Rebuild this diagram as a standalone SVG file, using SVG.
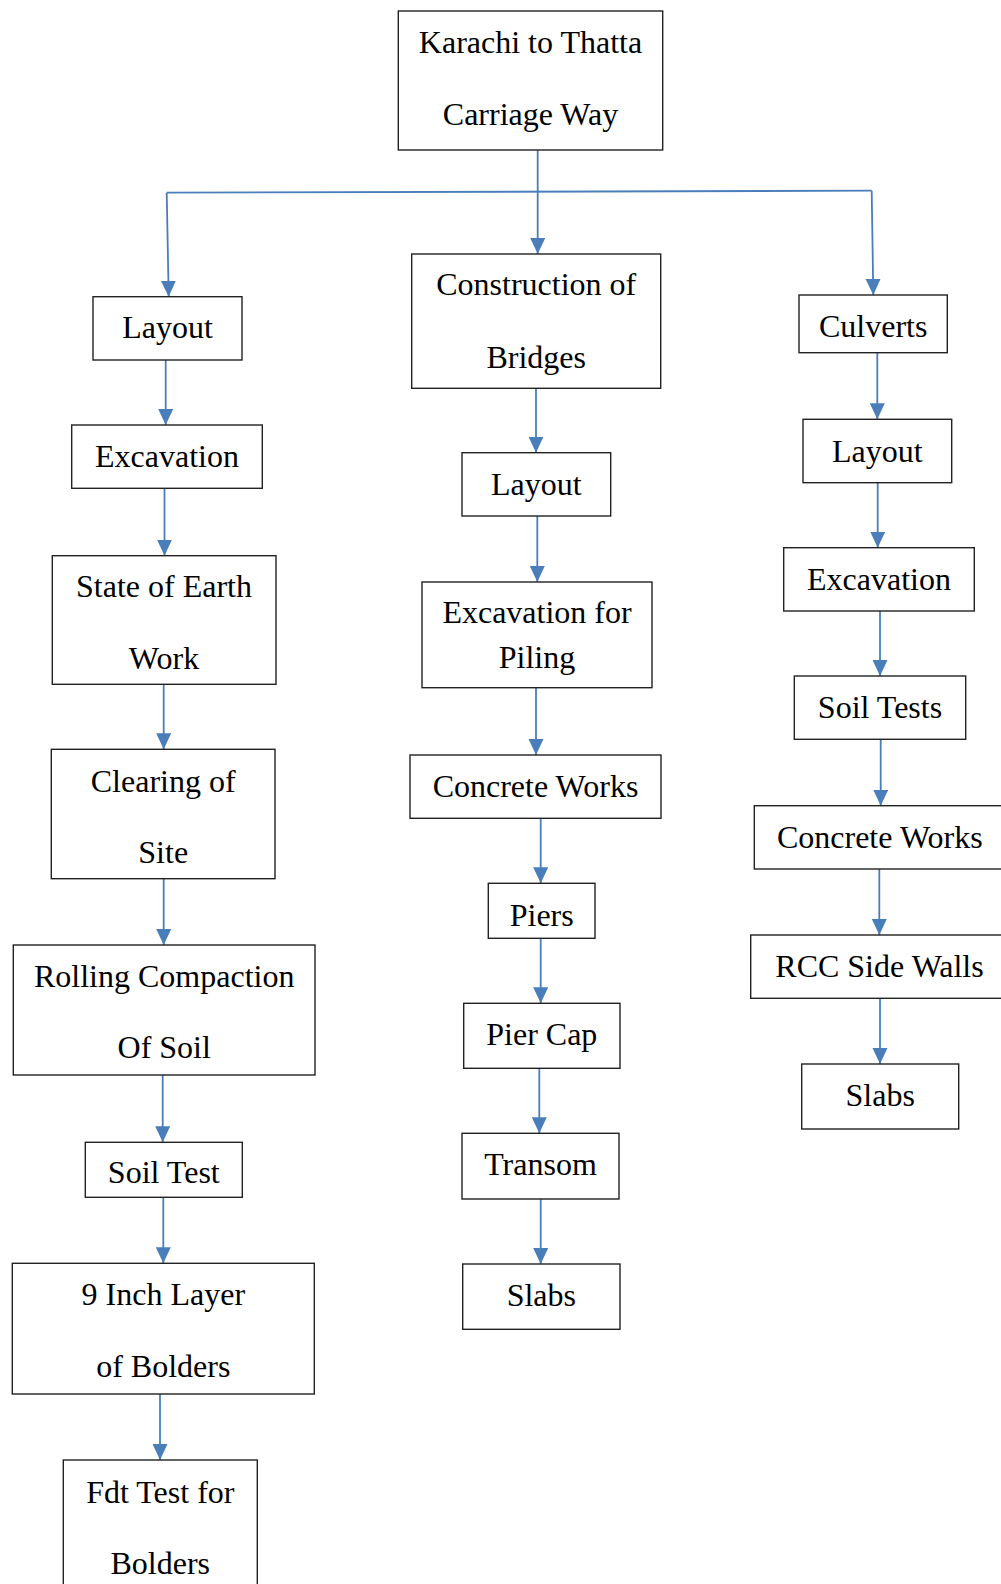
<svg xmlns="http://www.w3.org/2000/svg" width="1001" height="1584" viewBox="0 0 1001 1584">
<style>
.box{fill:#fff;stroke:#222;stroke-width:1.4}
.t{font-family:"Liberation Serif","Times New Roman",serif;font-size:32px;fill:#000;text-anchor:middle}
.c{fill:none;stroke:#4a7ebb;stroke-width:1.8}
.a{marker-end:url(#arr)}
</style>
<defs>
<marker id="arr" markerUnits="userSpaceOnUse" markerWidth="17" markerHeight="16" refX="16" refY="7.5" orient="auto">
<path d="M0,0 L16,7.5 L0,15 z" fill="#4a7ebb"/>
</marker>
</defs>
<rect width="1001" height="1584" fill="#fff"/>
<g id="connectors">
<line class="c a" x1="537.7" y1="150" x2="537.7" y2="254"/>
<line class="c" x1="166.7" y1="192.7" x2="871.7" y2="190.7"/>
<line class="c a" x1="166.7" y1="192.7" x2="168.7" y2="296.7"/>
<line class="c a" x1="871.7" y1="190.7" x2="873.3" y2="295"/>
<line class="c a" x1="165.7" y1="360" x2="165.7" y2="425"/>
<line class="c a" x1="164.5" y1="488.3" x2="164.5" y2="555.7"/>
<line class="c a" x1="163.7" y1="684.3" x2="163.7" y2="749.3"/>
<line class="c a" x1="163.7" y1="878.7" x2="163.7" y2="945"/>
<line class="c a" x1="162.7" y1="1075" x2="162.7" y2="1142.3"/>
<line class="c a" x1="163.3" y1="1197.3" x2="163.3" y2="1263.3"/>
<line class="c a" x1="160" y1="1394" x2="160" y2="1460"/>
<line class="c a" x1="536" y1="388.3" x2="536" y2="452.7"/>
<line class="c a" x1="537.3" y1="516" x2="537.3" y2="582"/>
<line class="c a" x1="536" y1="687.7" x2="536" y2="755"/>
<line class="c a" x1="540.7" y1="818.3" x2="540.7" y2="883.3"/>
<line class="c a" x1="540.7" y1="938.3" x2="540.7" y2="1003.3"/>
<line class="c a" x1="539.3" y1="1068.3" x2="539.3" y2="1133.3"/>
<line class="c a" x1="540.7" y1="1199" x2="540.7" y2="1264"/>
<line class="c a" x1="877.3" y1="352.7" x2="877.3" y2="419.3"/>
<line class="c a" x1="877.7" y1="482.7" x2="877.7" y2="547.7"/>
<line class="c a" x1="880" y1="611" x2="880" y2="676"/>
<line class="c a" x1="880.7" y1="739.3" x2="880.7" y2="805.7"/>
<line class="c a" x1="879.3" y1="869" x2="879.3" y2="935"/>
<line class="c a" x1="880" y1="998.3" x2="880" y2="1064"/>
</g>
<g id="n-root"><rect class="box" x="398.3" y="11" width="264.4" height="139"/><text class="t" x="530.5" y="53">Karachi to Thatta</text><text class="t" x="530.5" y="125">Carriage Way</text></g>
<g id="n-layout-l"><rect class="box" x="93" y="296.7" width="149" height="63.3"/><text class="t" x="167.5" y="338">Layout</text></g>
<g id="n-excavation-l"><rect class="box" x="71.7" y="425" width="190.6" height="63.3"/><text class="t" x="167" y="466.7">Excavation</text></g>
<g id="n-state"><rect class="box" x="52.3" y="555.7" width="223.7" height="128.6"/><text class="t" x="164" y="597.3">State of Earth</text><text class="t" x="164" y="669.3">Work</text></g>
<g id="n-clearing"><rect class="box" x="51.3" y="749.3" width="223.7" height="129.4"/><text class="t" x="163.2" y="791.7">Clearing of</text><text class="t" x="163.2" y="863.3">Site</text></g>
<g id="n-rolling"><rect class="box" x="13.3" y="945" width="301.7" height="130"/><text class="t" x="164.2" y="986.7">Rolling Compaction</text><text class="t" x="164.2" y="1058.3">Of Soil</text></g>
<g id="n-soiltest"><rect class="box" x="85.3" y="1142.3" width="157" height="55"/><text class="t" x="163.8" y="1183.3">Soil Test</text></g>
<g id="n-9inch"><rect class="box" x="12.3" y="1263.3" width="302" height="130.7"/><text class="t" x="163.3" y="1305">9 Inch Layer</text><text class="t" x="163.3" y="1376.7">of Bolders</text></g>
<g id="n-fdt"><rect class="box" x="63.3" y="1460" width="194" height="140"/><text class="t" x="160.3" y="1502.7">Fdt Test for</text><text class="t" x="160.3" y="1574">Bolders</text></g>
<g id="n-bridges"><rect class="box" x="411.7" y="254" width="249" height="134.3"/><text class="t" x="536.2" y="295">Construction of</text><text class="t" x="536.2" y="368.3">Bridges</text></g>
<g id="n-layout-m"><rect class="box" x="462" y="452.7" width="148.7" height="63.3"/><text class="t" x="536.3" y="495">Layout</text></g>
<g id="n-excpiling"><rect class="box" x="422" y="582" width="230" height="105.7"/><text class="t" x="537" y="623.3">Excavation for</text><text class="t" x="537" y="668.3">Piling</text></g>
<g id="n-concrete-m"><rect class="box" x="410" y="755" width="251" height="63.3"/><text class="t" x="535.5" y="796.7">Concrete Works</text></g>
<g id="n-piers"><rect class="box" x="488.3" y="883.3" width="106.7" height="55"/><text class="t" x="541.7" y="926">Piers</text></g>
<g id="n-piercap"><rect class="box" x="463.7" y="1003.3" width="156.3" height="65"/><text class="t" x="541.8" y="1045">Pier Cap</text></g>
<g id="n-transom"><rect class="box" x="462" y="1133.3" width="157" height="65.7"/><text class="t" x="540.5" y="1175">Transom</text></g>
<g id="n-slabs-m"><rect class="box" x="462.7" y="1264" width="157.3" height="65.3"/><text class="t" x="541.3" y="1305.7">Slabs</text></g>
<g id="n-culverts"><rect class="box" x="799" y="295" width="148.3" height="57.7"/><text class="t" x="873.2" y="336.7">Culverts</text></g>
<g id="n-layout-r"><rect class="box" x="803" y="419.3" width="148.7" height="63.4"/><text class="t" x="877.3" y="461.7">Layout</text></g>
<g id="n-excavation-r"><rect class="box" x="783.7" y="547.7" width="190.6" height="63.3"/><text class="t" x="879" y="590">Excavation</text></g>
<g id="n-soiltests"><rect class="box" x="794.3" y="676" width="171.4" height="63.3"/><text class="t" x="880" y="718.3">Soil Tests</text></g>
<g id="n-concrete-r"><rect class="box" x="754.3" y="805.7" width="251" height="63.3"/><text class="t" x="879.8" y="848.3">Concrete Works</text></g>
<g id="n-rcc"><rect class="box" x="750.7" y="935" width="257.6" height="63.3"/><text class="t" x="879.5" y="976.7">RCC Side Walls</text></g>
<g id="n-slabs-r"><rect class="box" x="801.7" y="1064" width="157" height="65"/><text class="t" x="880.2" y="1106">Slabs</text></g>
</svg>
